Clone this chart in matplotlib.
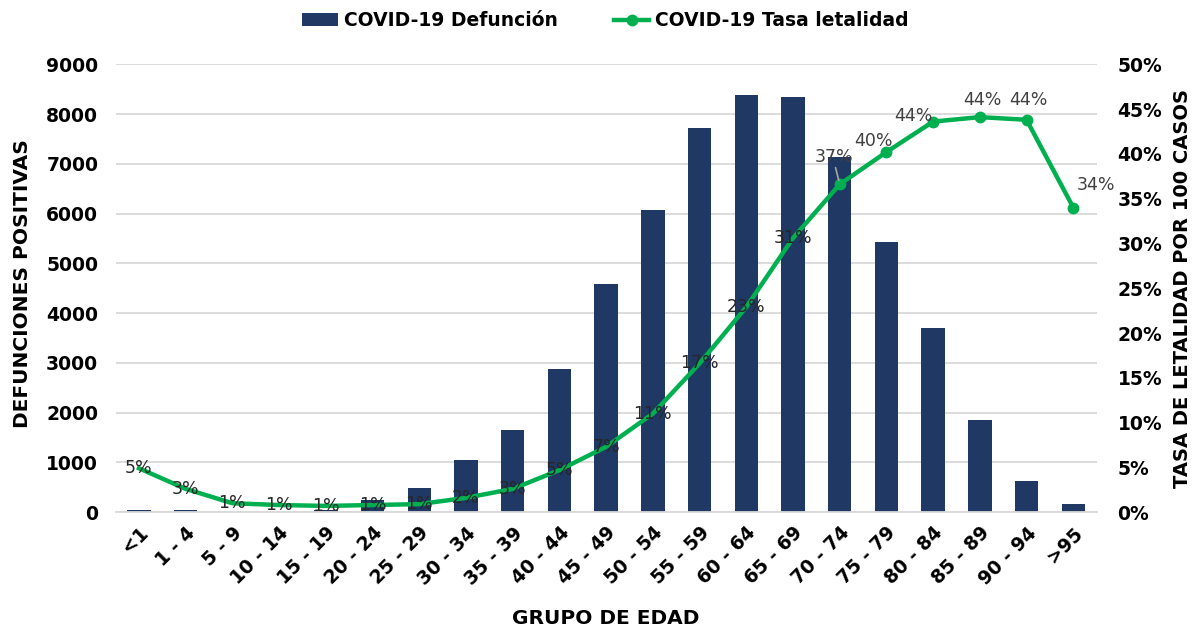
import numpy as np
import matplotlib.pyplot as plt
from matplotlib.ticker import FuncFormatter

plt.rcParams['font.family'] = ['DejaVu Sans']

grupos = ['<1', '1 - 4', '5 - 9', '10 - 14', '15 - 19', '20 - 24', '25 - 29',
          '30 - 34', '35 - 39', '40 - 44', '45 - 49', '50 - 54', '55 - 59',
          '60 - 64', '65 - 69', '70 - 74', '75 - 79', '80 - 84', '85 - 89',
          '90 - 94', '>95']
defunciones = [45, 45, 12, 12, 40, 240, 490, 1040, 1650, 2870, 4580, 6080,
               7710, 8390, 8350, 7130, 5420, 3700, 1850, 630, 160]
letalidad = [4.9, 2.6, 1.0, 0.8, 0.7, 0.8, 0.9, 1.6, 2.6, 4.7, 7.3, 11.0,
             16.6, 22.9, 30.6, 36.6, 40.2, 43.6, 44.1, 43.8, 34.0]

AZUL = '#1F3864'
VERDE = '#00B050'

fig = plt.figure(figsize=(11.92, 6.3), dpi=100)
ax = fig.add_axes([0.097, 0.187, 0.823, 0.711])
ax2 = ax.twinx()

x = np.arange(len(grupos))
ax.bar(x, defunciones, width=0.5, color=AZUL, zorder=2,
       label='COVID-19 Defunción')
ax.set_ylim(0, 9000)
ax.set_yticks(np.arange(0, 9001, 1000))
ax.set_xlim(-0.5, len(grupos) - 0.5)
ax.grid(axis='y', color='#D9D9D9', linewidth=1.3, zorder=0)
ax.set_axisbelow(True)

ax2.plot(x, letalidad, color=VERDE, linewidth=3.2, marker='o', markersize=7.5,
         markevery=list(range(15, len(grupos))), zorder=3,
         label='COVID-19 Tasa letalidad')
ax2.set_ylim(0, 50)
ax2.set_yticks(np.arange(0, 51, 5))
ax2.yaxis.set_major_formatter(FuncFormatter(lambda v, p: f'{v:.0f}%'))

# etiquetas de datos: centradas en el punto, las últimas desplazadas (en puntos)
offsets = {15: (-4, 20), 16: (-9, 8), 17: (-14, 4), 18: (1.5, 12),
           19: (1, 14), 20: (16, 16)}
for i, v in enumerate(letalidad):
    dx, dy = offsets.get(i, (0, 0))
    ax2.annotate(f'{v:.0f}%', (i, v), xytext=(dx, dy), textcoords='offset points',
                 ha='center', va='center', fontsize=12.5,
                 color='#262626' if i < 15 else '#404040', zorder=4)
ax2.annotate('', (15, letalidad[15]), xytext=(-3, 12), textcoords='offset points',
             arrowprops=dict(arrowstyle='-', color='#A6A6A6', lw=1.2,
                             shrinkA=0, shrinkB=3))

for a in (ax, ax2):
    for s in a.spines.values():
        s.set_visible(False)
    a.tick_params(length=0, labelsize=13.5)
ax.spines['bottom'].set_visible(True)
ax.spines['bottom'].set_color('#D9D9D9')
ax.spines['bottom'].set_linewidth(1.3)

ax.set_xticks(x)
ax.set_xticklabels(grupos, rotation=45, ha='right', rotation_mode='anchor',
                   fontweight='bold', fontsize=13.5)
for lab in ax.get_yticklabels() + ax2.get_yticklabels():
    lab.set_fontweight('bold')
ax.tick_params(axis='y', pad=12.5)
ax2.tick_params(axis='y', pad=15)
ax.tick_params(axis='x', pad=8)

ax.set_ylabel('DEFUNCIONES POSITIVAS', fontweight='bold', fontsize=14.5)
ax.yaxis.set_label_coords(-0.095, 0.51)
ax2.set_ylabel('TASA DE LETALIDAD POR 100 CASOS', fontweight='bold', fontsize=14)
ax2.yaxis.set_label_coords(1.088, 0.5)
ax.set_xlabel('GRUPO DE EDAD', fontweight='bold', fontsize=14.5)
ax.xaxis.set_label_coords(0.5, -0.237)
ax.xaxis.label.set_va('center')
ax.yaxis.label.set_va('center')
ax2.yaxis.label.set_va('center')

h1, l1 = ax.get_legend_handles_labels()
h2, l2 = ax2.get_legend_handles_labels()
fig.legend(h1 + h2, l1 + l2, loc='center', bbox_to_anchor=(0.508, 0.967),
           ncol=2, frameon=False, prop={'weight': 'bold', 'size': 13.5},
           handlelength=1.9, columnspacing=3.0, handletextpad=0.3)

fig.savefig('out.png', dpi=100)
